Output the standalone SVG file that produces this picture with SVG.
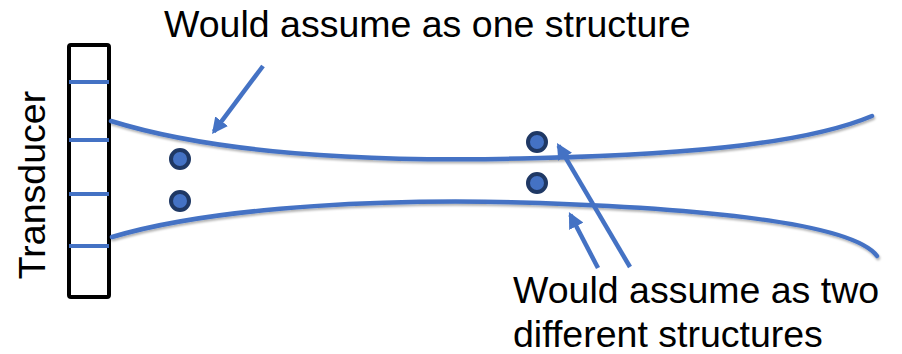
<svg xmlns="http://www.w3.org/2000/svg" width="902" height="354" viewBox="0 0 902 354">
  <style>
    .lbl { font-family: "Liberation Sans", Arial, sans-serif; font-size: 37.5px; fill: #000; }
    .beam { fill: none; stroke: #4472C4; stroke-width: 4.5; stroke-linecap: round; filter: url(#sh); }
    .tick { stroke: #4472C4; stroke-width: 4; }
    .dot { fill: #4472C4; stroke: #1F3864; stroke-width: 4; }
    .arr { stroke: #4472C4; stroke-width: 4.5; fill: none; marker-end: url(#ah); }
  </style>
  <defs>
    <filter id="sh" x="-5%" y="-20%" width="110%" height="140%">
      <feDropShadow dx="1" dy="2" stdDeviation="1.2" flood-color="#000" flood-opacity="0.3"/>
    </filter>
    <marker id="ah" markerUnits="userSpaceOnUse" markerWidth="18" markerHeight="16" refX="13" refY="8" orient="auto">
      <path d="M0,0 L16,8 L0,16 z" fill="#4472C4"/>
    </marker>
  </defs>

  <g id="transducer">
    <rect x="69" y="45" width="40" height="252" rx="2" fill="#fff" stroke="#000" stroke-width="4"/>
    <line class="tick" x1="69" y1="82" x2="109" y2="82"/>
    <line class="tick" x1="69" y1="140" x2="109" y2="140"/>
    <line class="tick" x1="69" y1="194" x2="109" y2="194"/>
    <line class="tick" x1="69" y1="246" x2="109" y2="246"/>
    <text class="lbl" transform="translate(45,185) rotate(-90)" text-anchor="middle">Transducer</text>
  </g>

  <g id="beam">
    <path class="beam" d="M111,121 C230,158 400,162 540,158 C700,154 810,142 872,116"/>
    <path class="beam" d="M112,237 C220,205 400,198 540,203 C680,208 850,220 877,256"/>
  </g>

  <g id="targets">
    <circle class="dot" cx="180" cy="159" r="9"/>
    <circle class="dot" cx="180" cy="201" r="9"/>
    <circle class="dot" cx="537" cy="142" r="9"/>
    <circle class="dot" cx="537" cy="183" r="9"/>
  </g>

  <g id="connectors">
    <line class="arr" x1="263" y1="66" x2="213.8" y2="131.6"/>
    <line class="arr" x1="630" y1="267" x2="558.5" y2="145.6"/>
    <line class="arr" x1="598" y1="268" x2="570.3" y2="214.7"/>
  </g>

  <g id="label-top">
    <text class="lbl" x="164" y="37">Would assume as one structure</text>
  </g>
  <g id="label-bottom">
    <text class="lbl" x="513" y="303">Would assume as two</text>
    <text class="lbl" x="513" y="347">different structures</text>
  </g>
</svg>
